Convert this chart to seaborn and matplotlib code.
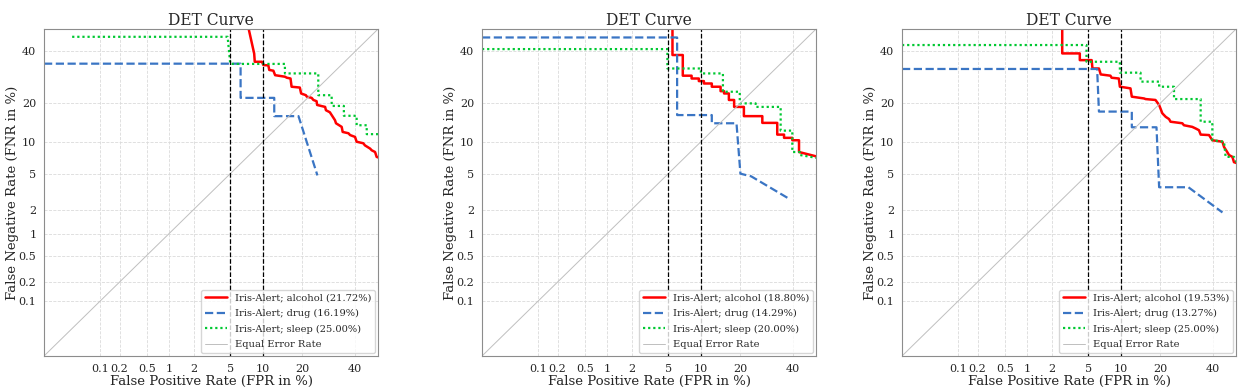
import matplotlib
matplotlib.use("Agg")
import matplotlib.pyplot as plt
import seaborn as sns
import pandas as pd
from statistics import NormalDist

# DET curves (FPR %, FNR %), one set per panel
alcohol_fpr_1 = [7.5, 8.4, 8.5, 9.8, 10.1, 11.1, 11.3, 12.2, 12.6, 15.0, 15.5, 16.5, 16.8, 19.2, 19.6, 21.1, 21.4, 23.0, 23.6, 24.7, 24.9, 27.8, 28.1, 29.6, 30.3, 31.6, 32.0, 34.3, 34.7, 37.1, 37.8, 39.9, 40.6, 43.5, 44.2, 46.5, 47.2, 48.7, 49.4, 51.0]
alcohol_fnr_1 = [50.0, 39.0, 35.5, 35.5, 34.1, 34.0, 32.1, 31.8, 30.0, 29.4, 29.0, 28.7, 25.6, 25.3, 23.2, 22.6, 22.1, 21.7, 21.0, 20.6, 19.4, 18.8, 17.8, 17.2, 16.4, 15.0, 14.2, 13.3, 12.1, 11.8, 11.4, 11.0, 10.0, 9.7, 9.3, 8.7, 8.4, 8.1, 7.3, 7.1]
drug_fpr_1 = [0.01, 6.3, 6.3, 12.4, 12.4, 18.8, 25.0]
drug_fnr_1 = [34.7, 34.7, 21.7, 21.7, 16.1, 16.1, 4.8]
sleep_fpr_1 = [0.033, 4.7, 5.0, 15.0, 15.0, 25.3, 25.3, 30.3, 30.3, 35.2, 35.2, 40.6, 40.6, 45.0, 45.0, 51.0]
sleep_fnr_1 = [46.5, 46.5, 34.6, 34.6, 30.7, 30.7, 22.6, 22.6, 19.1, 19.1, 16.2, 16.2, 13.7, 13.7, 11.6, 11.6]

alcohol_fpr_2 = [5.5, 5.5, 6.9, 6.9, 8.3, 8.3, 9.6, 9.6, 10.6, 10.6, 12.3, 12.3, 14.4, 14.4, 15.3, 15.3, 16.6, 16.6, 18.1, 18.1, 21.1, 21.1, 27.5, 27.5, 33.3, 33.3, 36.1, 36.1, 39.6, 39.6, 42.5, 42.5, 51.0]
alcohol_fnr_2 = [52.0, 38.4, 38.4, 29.8, 29.8, 28.7, 28.7, 27.7, 27.7, 26.8, 26.8, 25.6, 25.6, 24.0, 24.0, 23.2, 23.2, 21.0, 21.0, 18.8, 18.8, 16.1, 16.1, 14.3, 14.3, 11.5, 11.5, 10.8, 10.8, 10.3, 10.3, 8.1, 7.3]
drug_fpr_2 = [0.01, 6.1, 6.1, 12.3, 12.3, 18.8, 20.0, 23.5, 37.5]
drug_fnr_2 = [46.2, 46.2, 16.4, 16.4, 14.2, 14.2, 5.0, 4.7, 2.75]
sleep_fpr_2 = [0.01, 4.9, 4.9, 10.0, 10.0, 15.0, 15.0, 19.8, 19.8, 25.1, 25.1, 34.7, 34.7, 39.6, 39.6, 42.9, 42.9, 51.0]
sleep_fnr_2 = [41.0, 41.0, 32.7, 32.7, 30.7, 30.7, 23.8, 23.8, 19.9, 19.9, 18.8, 18.8, 12.4, 12.4, 8.1, 8.1, 7.6, 7.1]

alcohol_fpr_3 = [2.65, 2.65, 4.1, 4.1, 5.4, 5.5, 6.35, 6.6, 8.1, 8.3, 9.6, 9.8, 10.9, 12.0, 12.3, 15.3, 15.7, 18.5, 19.6, 20.6, 21.7, 22.8, 23.3, 27.5, 28.1, 31.3, 32.7, 34.0, 34.7, 38.2, 39.6, 44.0, 44.7, 46.1, 46.9, 48.4, 49.1, 51.0]
alcohol_fnr_3 = [52.0, 39.1, 39.1, 36.2, 36.2, 32.7, 32.7, 30.3, 29.8, 29.0, 28.7, 25.6, 25.3, 25.0, 22.1, 21.5, 21.3, 21.0, 19.4, 16.9, 15.9, 15.3, 14.6, 14.2, 13.7, 13.3, 12.9, 12.5, 11.5, 11.4, 10.3, 10.0, 9.0, 8.1, 7.6, 7.3, 6.5, 6.3]
drug_fpr_3 = [0.01, 6.1, 6.35, 12.3, 12.3, 18.8, 19.6, 29.8, 44.0]
drug_fnr_3 = [32.5, 32.5, 17.4, 17.4, 13.2, 13.2, 3.6, 3.6, 1.85]
sleep_fpr_3 = [0.01, 4.8, 4.8, 9.8, 9.8, 14.4, 14.4, 19.6, 19.6, 24.5, 24.5, 34.7, 34.7, 39.6, 39.6, 44.7, 45.4, 49.1, 51.0]
sleep_fnr_3 = [42.8, 42.8, 35.5, 35.5, 31.0, 31.0, 27.5, 27.5, 25.6, 25.6, 21.3, 21.3, 14.6, 14.6, 10.3, 10.0, 7.3, 7.3, 6.0]

alcohol_eer = ["21.72%", "18.80%", "19.53%"]
drug_eer = ["16.19%", "14.29%", "13.27%"]
sleep_eer = ["25.00%", "20.00%", "25.00%"]

tick_pct = [0.1, 0.2, 0.5, 1, 2, 5, 10, 20, 40]
tick_labels = ["0.1", "0.2", "0.5", "1", "2", "5", "10", "20", "40"]

ppf = NormalDist().inv_cdf


def probit(values):
    return [ppf(v / 100.0) for v in values]


sns.set_style("whitegrid", {"grid.linestyle": "--", "axes.edgecolor": "0.55",
                            "grid.color": "0.86"})
plt.rcParams["font.family"] = ["DejaVu Serif"]
plt.rcParams["grid.linewidth"] = 0.6

fig = plt.figure(figsize=(12.5, 3.92), dpi=100)
lefts = [0.0352, 0.3856, 0.7216]

curves = [
    (alcohol_fpr_1, alcohol_fnr_1, drug_fpr_1, drug_fnr_1, sleep_fpr_1, sleep_fnr_1),
    (alcohol_fpr_2, alcohol_fnr_2, drug_fpr_2, drug_fnr_2, sleep_fpr_2, sleep_fnr_2),
    (alcohol_fpr_3, alcohol_fnr_3, drug_fpr_3, drug_fnr_3, sleep_fpr_3, sleep_fnr_3),
]

lo, hi = ppf(0.0001), ppf(0.5)

for i, (afp, afn, dfp, dfn, sfp, sfn) in enumerate(curves):
    ax = fig.add_axes([lefts[i], 0.0918, 0.2672, 0.834])

    a = pd.DataFrame({"x": probit(afp), "y": probit(afn)})
    d = pd.DataFrame({"x": probit(dfp), "y": probit(dfn)})
    s = pd.DataFrame({"x": probit(sfp), "y": probit(sfn)})

    sns.lineplot(data=a, x="x", y="y", sort=False, estimator=None, ax=ax,
                 color="red", lw=1.8, label=f"Iris-Alert; alcohol ({alcohol_eer[i]})")
    sns.lineplot(data=d, x="x", y="y", sort=False, estimator=None, ax=ax,
                 color="#3a75c4", lw=1.6, linestyle="--",
                 label=f"Iris-Alert; drug ({drug_eer[i]})")
    sns.lineplot(data=s, x="x", y="y", sort=False, estimator=None, ax=ax,
                 color="#00c832", lw=1.6, linestyle=(0, (1, 1.3)),
                 label=f"Iris-Alert; sleep ({sleep_eer[i]})")
    ax.plot([lo, hi], [lo, hi], color="0.75", lw=0.7, label="Equal Error Rate")

    ax.axvline(ppf(0.05), color="black", lw=0.9, linestyle="--")
    ax.axvline(ppf(0.10), color="black", lw=0.9, linestyle="--")

    ax.set_xlim(lo, hi)
    ax.set_ylim(lo, hi)
    ax.set_xticks(probit(tick_pct))
    ax.set_xticklabels(tick_labels, fontsize=8)
    ax.set_yticks(probit(tick_pct))
    ax.set_yticklabels(tick_labels, fontsize=8)
    ax.tick_params(pad=2)
    ax.set_title("DET Curve", fontsize=11.2, pad=3)
    ax.set_xlabel("False Positive Rate (FPR in %)", fontsize=9.5, labelpad=1)
    ax.set_ylabel("False Negative Rate (FNR in %)", fontsize=9.5, labelpad=0)
    ax.legend(loc="lower right", fontsize=7.1, borderaxespad=0.3,
              handlelength=2.2, labelspacing=0.65)

fig.savefig("out.png", dpi=100)
